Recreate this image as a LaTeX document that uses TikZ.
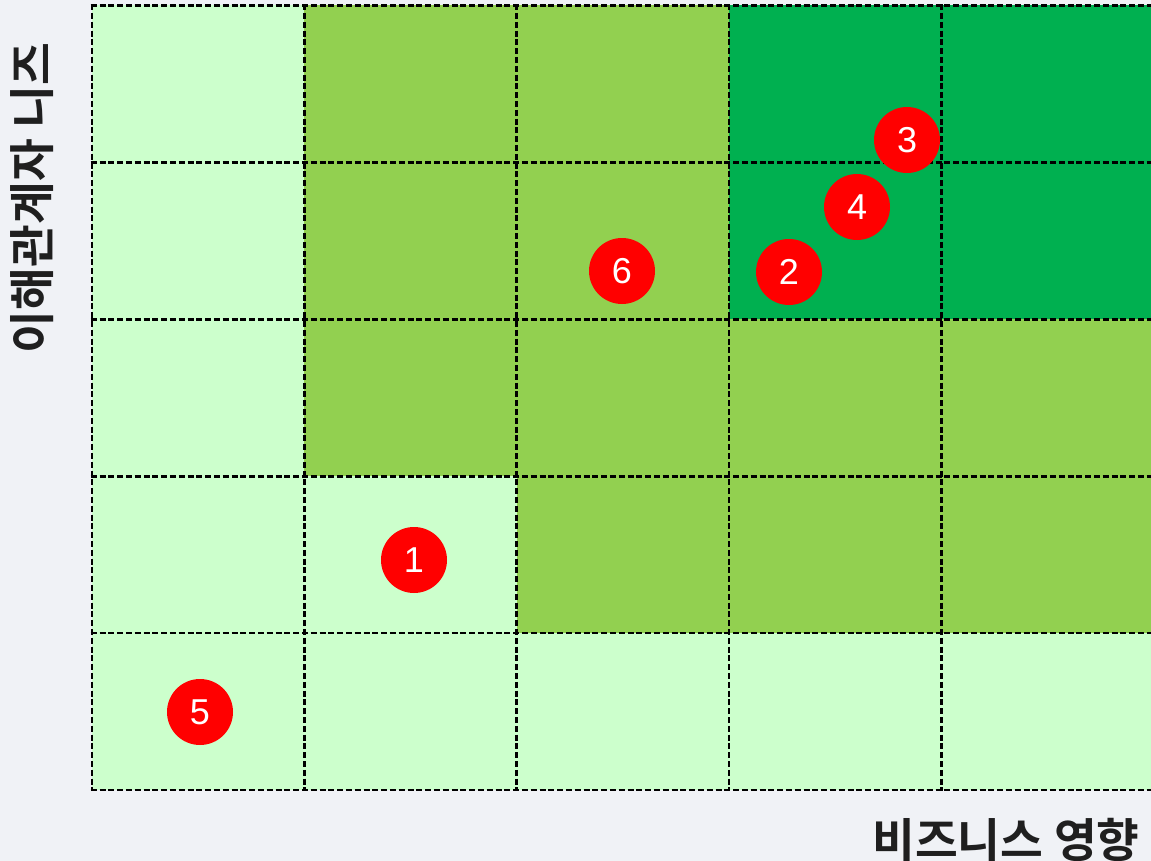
\documentclass[tikz,border=0pt]{standalone}
\usepackage{fontspec}
\setmainfont{Liberation Sans}
\newfontfamily\kofont{Noto Sans CJK KR}[BoldFont={* Bold}]
\definecolor{bgc}{HTML}{F0F2F6}
\definecolor{lightg}{HTML}{CCFFCC}
\definecolor{midg}{HTML}{92D050}
\definecolor{darkg}{HTML}{00B050}
\definecolor{redc}{HTML}{FF0000}
\tikzset{
  gridline/.style={draw=black, line width=2.7pt, dash pattern=on 6pt off 2.8pt},
  dot/.style={circle, fill=redc, minimum size=66pt, inner sep=0pt, text=white, font=\fontsize{36}{36}\selectfont},
  axislabel/.style={font=\kofont\bfseries\fontsize{46.5}{46.5}\selectfont, text=black!88, inner sep=0pt}
}
\begin{document}
\begin{tikzpicture}[x=1pt,y=-1pt]
\fill[bgc] (0,0) rectangle (1151,861);
\useasboundingbox (0,0) rectangle (1151,861);
\def\cw{212.3}
\def\rh{156.9}
% colours row by row (top to bottom), columns left to right
\foreach \r/\cols in {0/{lightg,midg,midg,darkg,darkg},1/{lightg,midg,midg,darkg,darkg},2/{lightg,midg,midg,midg,midg},3/{lightg,lightg,midg,midg,midg},4/{lightg,lightg,lightg,lightg,lightg}}{
  \foreach \c [count=\i from 0] in \cols {
    \fill[\c] ({92+\i*\cw},{5.5+\r*\rh}) rectangle ({92+(\i+1)*\cw},{5.5+(\r+1)*\rh});
  }
}
\foreach \i in {0,...,5}{
  \draw[gridline] ({92+\i*\cw},4.2) -- ({92+\i*\cw},{5.5+5*\rh+1.3});
}
\foreach \j in {0,...,5}{
  \draw[gridline] (90.7,{5.5+\j*\rh}) -- ({92+5*\cw},{5.5+\j*\rh});
}
\node[dot] (p1) at (414,560) {1};
\node[dot] (p2) at (789,272) {2};
\node[dot] (p3) at (907,140) {3};
\node[dot] (p4) at (857,207) {4};
\node[dot] (p5) at (200,712) {5};
\node[dot] (p6) at (622,271) {6};
\node[axislabel] (xl) at (1006,839.5) {비즈니스 영향};
\node[axislabel, rotate=90] (yl) at (32,198) {이해관계자 니즈};
\end{tikzpicture}
\end{document}
